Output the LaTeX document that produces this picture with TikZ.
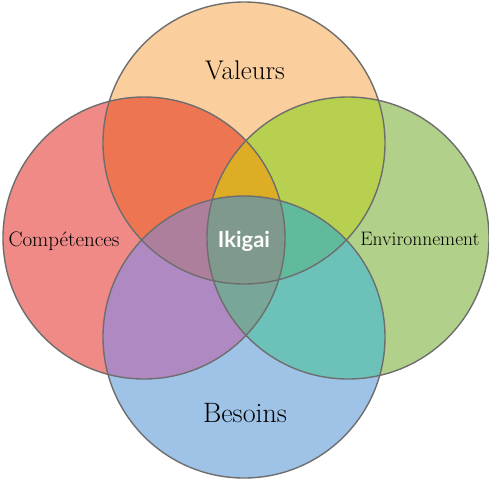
\documentclass[tikz,border=0pt]{standalone}
\usepackage{fontspec}
\newfontfamily\ikifont{Lato}
\usetikzlibrary{positioning}
\definecolor{ringgray}{HTML}{6E6E6E}
\definecolor{tcol}{HTML}{FACE9D}
\definecolor{lcol}{HTML}{EF8A86}
\definecolor{rcol}{HTML}{B1D08A}
\definecolor{bcol}{HTML}{9EC3E7}
\definecolor{tlcol}{HTML}{EE7552}
\definecolor{trcol}{HTML}{B8D04F}
\definecolor{lbcol}{HTML}{AF89C1}
\definecolor{rbcol}{HTML}{6CC2B9}
\definecolor{tlrcol}{HTML}{DDAD25}
\definecolor{tlbcol}{HTML}{AE7F9C}
\definecolor{trbcol}{HTML}{60BA9B}
\definecolor{lrbcol}{HTML}{78A698}
\definecolor{allcol}{HTML}{7F998C}
\tikzstyle{ring} = [draw=ringgray, line width=1.4pt]
\tikzstyle{word} = [text=black, inner sep=0pt]
\def\rad{141pt}

\begin{document}
\begin{tikzpicture}[x=1pt,y=-1pt]
\useasboundingbox (0,0) rectangle (489,480);

\coordinate (val) at (244,143);
\coordinate (comp) at (144,238);
\coordinate (env) at (348,238);
\coordinate (bes) at (244,337);

% single circles
\fill[tcol] (val) circle (\rad);
\fill[lcol] (comp) circle (\rad);
\fill[rcol] (env) circle (\rad);
\fill[bcol] (bes) circle (\rad);

% two at a time
\begin{scope}
\clip (val) circle (\rad);
\fill[tlcol] (comp) circle (\rad);
\fill[trcol] (env) circle (\rad);
\end{scope}
\begin{scope}
\clip (bes) circle (\rad);
\fill[lbcol] (comp) circle (\rad);
\fill[rbcol] (env) circle (\rad);
\end{scope}

% three at a time
\begin{scope}
\clip (val) circle (\rad);
\clip (comp) circle (\rad);
\fill[tlrcol] (env) circle (\rad);
\fill[tlbcol] (bes) circle (\rad);
\end{scope}
\begin{scope}
\clip (bes) circle (\rad);
\clip (env) circle (\rad);
\fill[trbcol] (val) circle (\rad);
\fill[lrbcol] (comp) circle (\rad);
\end{scope}

% all four
\begin{scope}
\clip (val) circle (\rad);
\clip (comp) circle (\rad);
\clip (env) circle (\rad);
\fill[allcol] (bes) circle (\rad);
\end{scope}

\draw[ring] (val) circle (\rad);
\draw[ring] (comp) circle (\rad);
\draw[ring] (env) circle (\rad);
\draw[ring] (bes) circle (\rad);

\node[word, font=\fontsize{27}{27}\selectfont] (valeurs) at (245,70) {Valeurs};
\node[word, font=\fontsize{21}{21}\selectfont] (competences) at (64,241) {Compétences};
\node[word, font=\fontsize{19.5}{19.5}\selectfont] (environnement) at (420,239) {Environnement};
\node[word, font=\fontsize{28}{28}\selectfont] (besoins) at (245,413) {Besoins};
\node[text=white, inner sep=0pt, font=\ikifont\bfseries\fontsize{22}{22}\selectfont] (ikigai) at (244,241) {Ikigai};
\end{tikzpicture}
\end{document}
